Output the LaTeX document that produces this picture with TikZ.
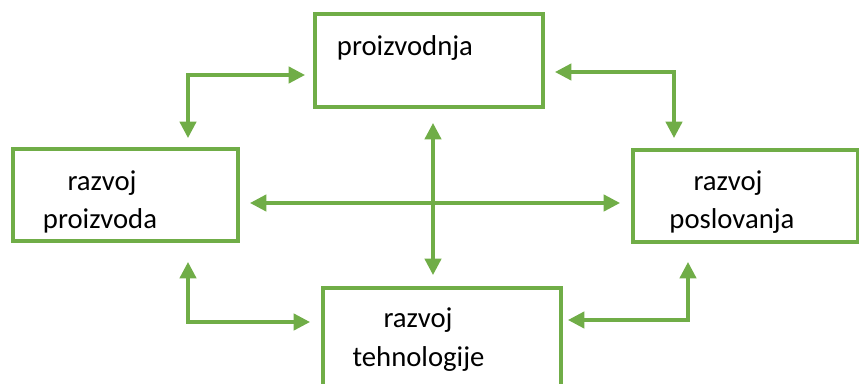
\documentclass[tikz,border=0pt]{standalone}
\usepackage{fontspec}
\setmainfont{Carlito}
\usetikzlibrary{arrows.meta}
\definecolor{lgreen}{HTML}{70AD47}
\tikzset{
  box/.style={draw=lgreen, line width=2.9pt, inner sep=0pt},
  txt/.style={font=\fontsize{24.5}{29}\selectfont, inner sep=0pt, anchor=base},
  link/.style={draw=lgreen, line width=2.8pt,
    {Triangle[length=14pt,width=14pt]}-{Triangle[length=14pt,width=14pt]}}
}
\begin{document}
\begin{tikzpicture}[x=0.03cm, y=-0.03cm]
\useasboundingbox (0,0) rectangle (859,383);
% boxes
\node[box, minimum width=6.84cm, minimum height=2.79cm] (prod) at (429,60.5){};
\node[box, minimum width=6.75cm, minimum height=2.76cm] (razP) at (125.5,195){};
\node[box, minimum width=6.75cm, minimum height=2.76cm] (razS) at (745.5,196){};
\node[box, minimum width=7.14cm, minimum height=3.3cm] (razT) at (442,343){};
% texts
\node[txt] (tprod) at (405,55){proizvodnja};
\node[txt] (tP1) at (102,190){razvoj};
\node[txt] (tP2) at (100,228){proizvoda};
\node[txt] (tS1) at (728,190){razvoj};
\node[txt] (tS2) at (732,228){poslovanja};
\node[txt] (tT1) at (418,327){razvoj};
\node[txt] (tT2) at (418.5,366){tehnologije};
% arrow ends
\coordinate (a1) at (188,138);
\coordinate (a2) at (305,75);
\coordinate (b1) at (555,72);
\coordinate (b2) at (674,138);
\coordinate (c1) at (188,262);
\coordinate (c2) at (310,322);
\coordinate (d1) at (688,262);
\coordinate (d2) at (568,320);
\coordinate (up) at (433,123);
\coordinate (dn) at (433,275);
\coordinate (lf) at (250,203);
\coordinate (rt) at (620,203);
\draw[link] (a1) |- (a2);
\draw[link] (b1) -| (b2);
\draw[link] (c1) |- (c2);
\draw[link] (d1) |- (d2);
\draw[link] (up) -- (dn);
\draw[link] (lf) -- (rt);
\end{tikzpicture}
\end{document}
